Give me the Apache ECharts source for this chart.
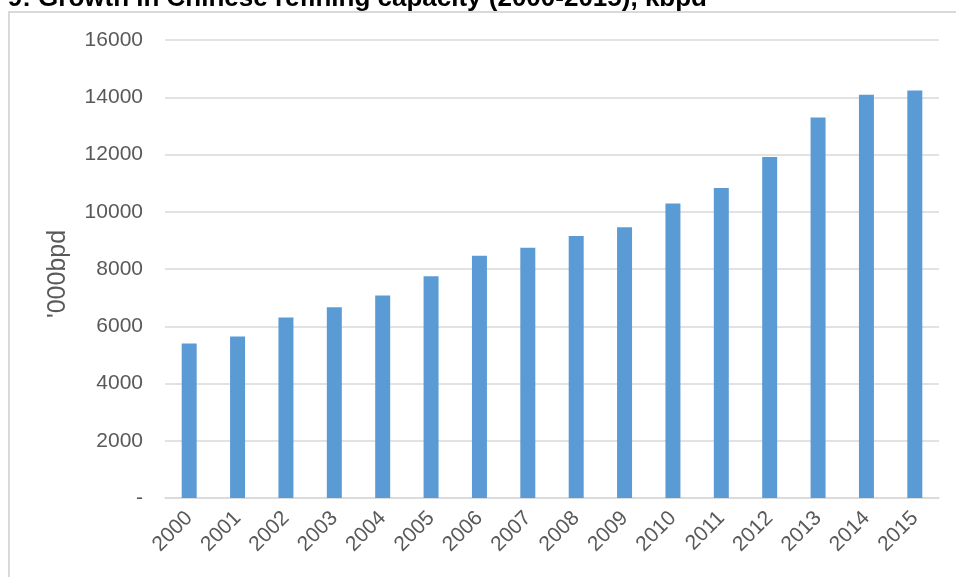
<!DOCTYPE html>
<html>
<head>
<meta charset="utf-8">
<title>Chinese refining capacity</title>
<script src="https://cdn.jsdelivr.net/npm/echarts@6/dist/echarts.min.js"></script>
<style>
  html, body { margin: 0; padding: 0; background: #fff; }
  #chart { width: 956px; height: 577px; }
</style>
</head>
<body>
<div id="chart"></div>
<script>
// refining capacity, '000 bpd
const years = ['2000', '2001', '2002', '2003', '2004', '2005', '2006', '2007',
  '2008', '2009', '2010', '2011', '2012', '2013', '2014', '2015']
const capacity = [5400, 5640, 6310, 6660, 7070, 7750, 8460, 8740,
  9150, 9460, 10290, 10830, 11910, 13290, 14090, 14240]

const labelFont = 'Liberation Sans, Arial, sans-serif'
const textColor = '#595959'
const lineColor = '#d9d9d9'

const chart = echarts.init(document.getElementById('chart'))

chart.setOption({
  animation: false,
  grid: {
    left: 165,
    right: 17,
    top: 40,
    bottom: 79
  },
  graphic: [
    {
      // chart area border
      type: 'rect',
      z: -10,
      shape: { x: 9, y: 12, width: 970, height: 590 },
      style: { fill: 'none', stroke: lineColor, lineWidth: 2 }
    },
    {
      // title, cut off at the top edge of the picture
      type: 'text',
      style: {
        text: 'Figure 9: Growth in Chinese refining capacity (2000-2015), kbpd',
        x: 707,
        y: -1,
        align: 'right',
        verticalAlign: 'middle',
        font: 'bold 26px Liberation Sans, Arial, sans-serif',
        fill: '#000'
      }
    }
  ],
  xAxis: {
    type: 'category',
    data: years,
    axisTick: { show: false },
    axisLine: {
      lineStyle: { color: lineColor, width: 1.5 }
    },
    axisLabel: {
      rotate: 45,
      margin: 17,
      interval: 0,
      color: textColor,
      fontFamily: labelFont,
      fontSize: 21
    }
  },
  yAxis: {
    type: 'value',
    min: 0,
    max: 16000,
    interval: 2000,
    name: "'000bpd",
    nameLocation: 'middle',
    nameGap: 94,
    nameTextStyle: {
      color: textColor,
      fontFamily: labelFont,
      fontSize: 25,
      padding: [0, 10, 0, 0]
    },
    axisLine: { show: false },
    axisTick: { show: false },
    splitLine: {
      lineStyle: { color: lineColor, width: 1.5 }
    },
    axisLabel: {
      margin: 22,
      color: textColor,
      fontFamily: labelFont,
      fontSize: 21,
      formatter: function (v) {
        return v === 0 ? '-' : String(v)
      }
    }
  },
  series: [
    {
      type: 'bar',
      data: capacity,
      barWidth: 15,
      itemStyle: { color: '#5b9bd5' }
    }
  ]
})
</script>
</body>
</html>
